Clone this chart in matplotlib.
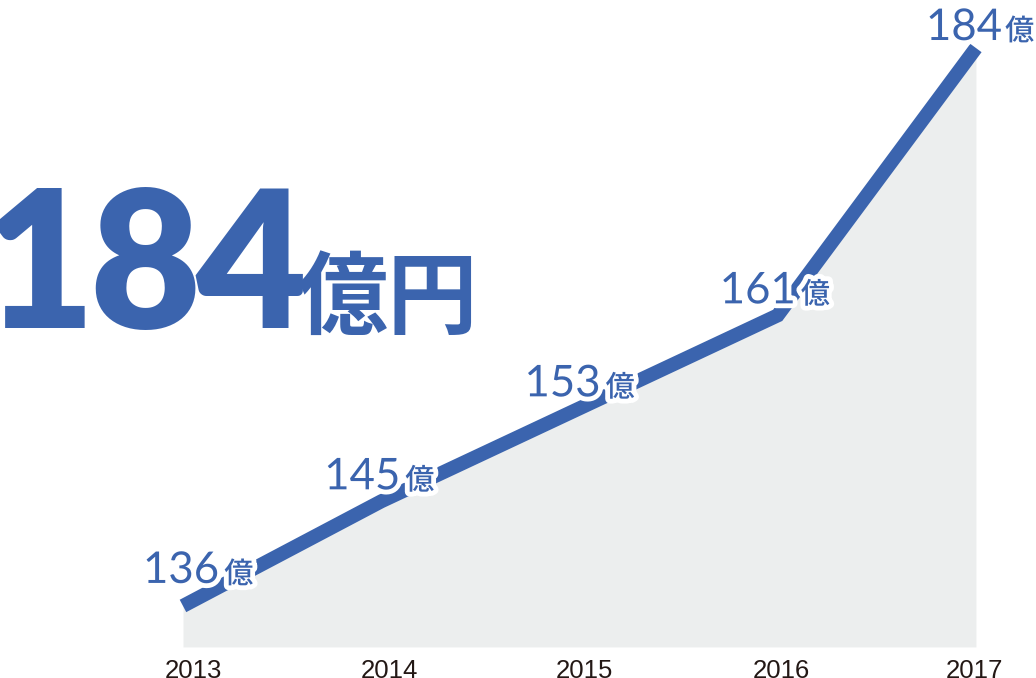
import matplotlib
matplotlib.use('Agg')
import matplotlib.pyplot as plt
import matplotlib.patheffects as pe
from matplotlib.transforms import IdentityTransform

# ---- data ----
years = ['2013', '2014', '2015', '2016', '2017']
values = [136, 145, 153, 161, 184]
unit = '億'
headline_value = '184'
headline_unit = '億円'

# ---- style ----
BLUE = '#3b64ae'
FILL = '#eceeee'
TICK = '#231815'
W, H, DPI = 1036, 678, 100

fig = plt.figure(figsize=(W / DPI, H / DPI), dpi=DPI)
ax = fig.add_axes([0, 0, 1, 1])
ax.set_axis_off()
x = list(range(len(years)))
ax.set_xlim(-0.923, 4.303)
ax.set_ylim(129.8, 188.13)
base = 132.47

ax.fill_between(x, base, values, color=FILL, lw=0, zorder=1)
ax.plot(x, values, color=BLUE, lw=10.1, solid_joinstyle='miter',
        solid_capstyle='butt', zorder=2)

# year labels
tick_dx = [10, 8, 5, 4, -1]
for xi, yr, tdx in zip(x, years, tick_dx):
    ax.annotate(yr, xy=(xi, base), xytext=(tdx, -31), textcoords='offset pixels',
                ha='center', va='baseline', fontsize=18.5, color=TICK,
                family='Liberation Sans')

halo = [pe.withStroke(linewidth=7, foreground='white')]
offsets = [(-40, 23), (-57, 12), (-55, 12), (-58, 12), (-50, 8)]
gaps = [5, 5, 5, 5, 3]
r = fig.canvas.get_renderer()
ident = IdentityTransform()
for xi, v, (dx, dy), g in zip(x, values, offsets, gaps):
    px, py = ax.transData.transform((xi, v))
    t = ax.text(px + dx, py + dy, str(v), transform=ident, ha='left',
                va='baseline', fontsize=31.5, family='Lato', color=BLUE,
                path_effects=halo, zorder=5)
    bb = t.get_window_extent(r)
    ax.text(bb.x1 + g, py + dy, unit, transform=ident, ha='left',
            va='baseline', fontsize=21, family='Noto Sans CJK JP',
            weight='medium', color=BLUE, path_effects=halo, zorder=5)

# headline
hx = -17
hy = H - 328
gap = -5
for ch in headline_value:
    t = ax.text(hx, hy, ch, transform=ident, ha='left', va='baseline',
                fontsize=138, family='Lato', weight='heavy', color=BLUE, zorder=6)
    bb = t.get_window_extent(r)
    hx = bb.x1 + gap
ax.text(hx - gap - 9, H - 333 + 6, headline_unit, transform=ident, ha='left',
        va='baseline', fontsize=65, family='Noto Sans CJK JP', weight='bold',
        color=BLUE, zorder=6)

fig.savefig('out.png', dpi=DPI)
